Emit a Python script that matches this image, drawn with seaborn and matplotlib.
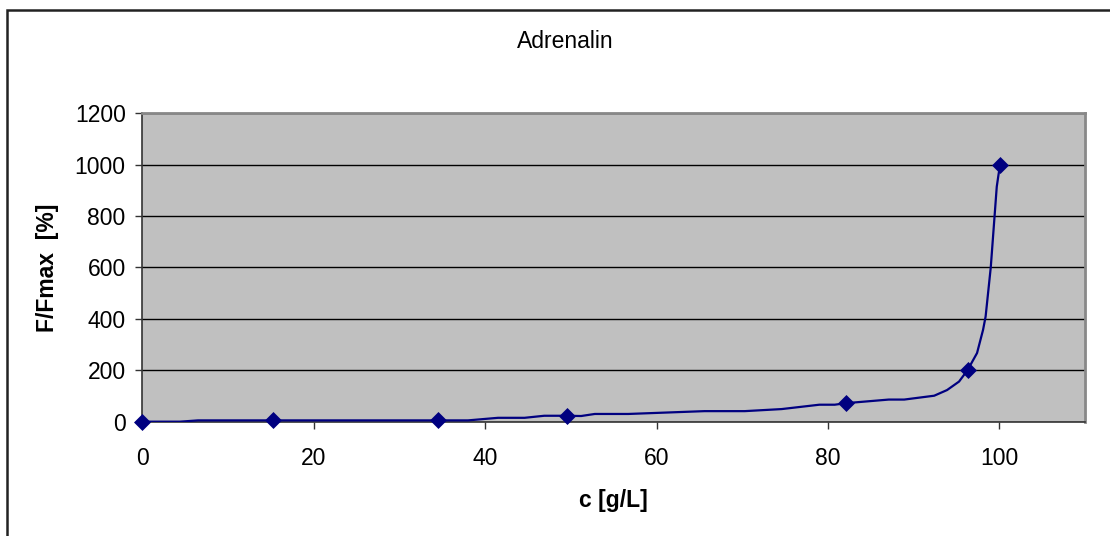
import matplotlib
matplotlib.use("Agg")
import matplotlib.pyplot as plt
import matplotlib.patches as patches
import seaborn as sns

# smoothed curve as drawn in the picture (c in g/L, F/Fmax in %)
curve_c = [0, 4.4, 6.5, 15.2, 34.6, 38.0, 41.5, 44.6, 46.9, 49.5, 51.2, 52.8,
           56.7, 65.6, 70.3, 74.6, 79.0, 80.8, 82.1, 87.1, 88.9, 92.4, 93.9,
           95.3, 96.3, 97.4, 98.1, 98.4, 99.0, 99.7, 99.9, 100.1]
curve_f = [0, 0, 5, 5, 5, 5, 15, 15, 23, 23, 22, 30,
           30, 41, 41, 49, 66, 66, 72, 86, 86, 101, 123,
           156, 201, 267, 357, 409, 600, 914, 960, 1000]

# measured points (diamond markers)
meas_c = [0, 15.2, 34.5, 49.5, 82.1, 96.3, 100.1]
meas_f = [0, 5, 5, 23, 72, 201, 1000]

x_ticks = [0, 20, 40, 60, 80, 100]
y_ticks = [0, 200, 400, 600, 800, 1000, 1200]

sns.set_style("white")
plt.rcParams['font.family'] = ['Liberation Sans', 'DejaVu Sans']
plt.rcParams['text.color'] = 'black'
plt.rcParams['axes.labelcolor'] = 'black'
plt.rcParams['xtick.color'] = 'black'
plt.rcParams['ytick.color'] = 'black'

fig = plt.figure(figsize=(11.1, 5.36), dpi=100)
ax = fig.add_axes([0.1282, 0.2133, 0.8493, 0.5754])
ax.set_facecolor('#c0c0c0')

sns.lineplot(x=curve_c, y=curve_f, ax=ax, color='#000080', linewidth=1.6,
             sort=False, estimator=None, zorder=3)
sns.scatterplot(x=meas_c, y=meas_f, ax=ax, marker='D', s=75, color='#000080',
                edgecolor='#000080', linewidth=0, zorder=4, clip_on=False)

ax.set_xlim(0, 110)
ax.set_ylim(0, 1200)
ax.set_xticks(x_ticks)
ax.set_yticks(y_ticks)
ax.yaxis.grid(True, color='black', linewidth=1)
ax.set_axisbelow(True)

ax.tick_params(axis='both', labelsize=16.5, direction='out', length=5,
               width=1, color='#333333', labelcolor='black',
               left=True, bottom=True)
ax.tick_params(axis='x', pad=13)
ax.tick_params(axis='y', pad=7)

for side in ['left', 'bottom']:
    ax.spines[side].set_color('#333333')
    ax.spines[side].set_linewidth(1.2)
for side in ['top', 'right']:
    ax.spines[side].set_color('#888888')
    ax.spines[side].set_linewidth(2)

ax.set_xlabel('c [g/L]', fontsize=16.5, fontweight='bold', color='black')
ax.set_ylabel('F/Fmax  [%]', fontsize=16.5, fontweight='bold', color='black')
ax.xaxis.set_label_coords(0.5, -0.254)
ax.xaxis.label.set_va('center')
ax.yaxis.set_label_coords(-0.1007, 0.5)
ax.yaxis.label.set_va('center')
ax.yaxis.label.set_ha('center')

fig.text(565 / 1110, 1 - 41 / 536, 'Adrenalin', fontsize=16.5,
         ha='center', va='center', color='black')

# chart area border (only top and left visible in the crop)
fig.patches.append(patches.Rectangle((7 / 1110, -0.1), 1.2, 1 - 10 / 536 + 0.1,
                                     transform=fig.transFigure, fill=False,
                                     edgecolor='#222222', linewidth=1.8))

fig.savefig('out.png', dpi=100)
